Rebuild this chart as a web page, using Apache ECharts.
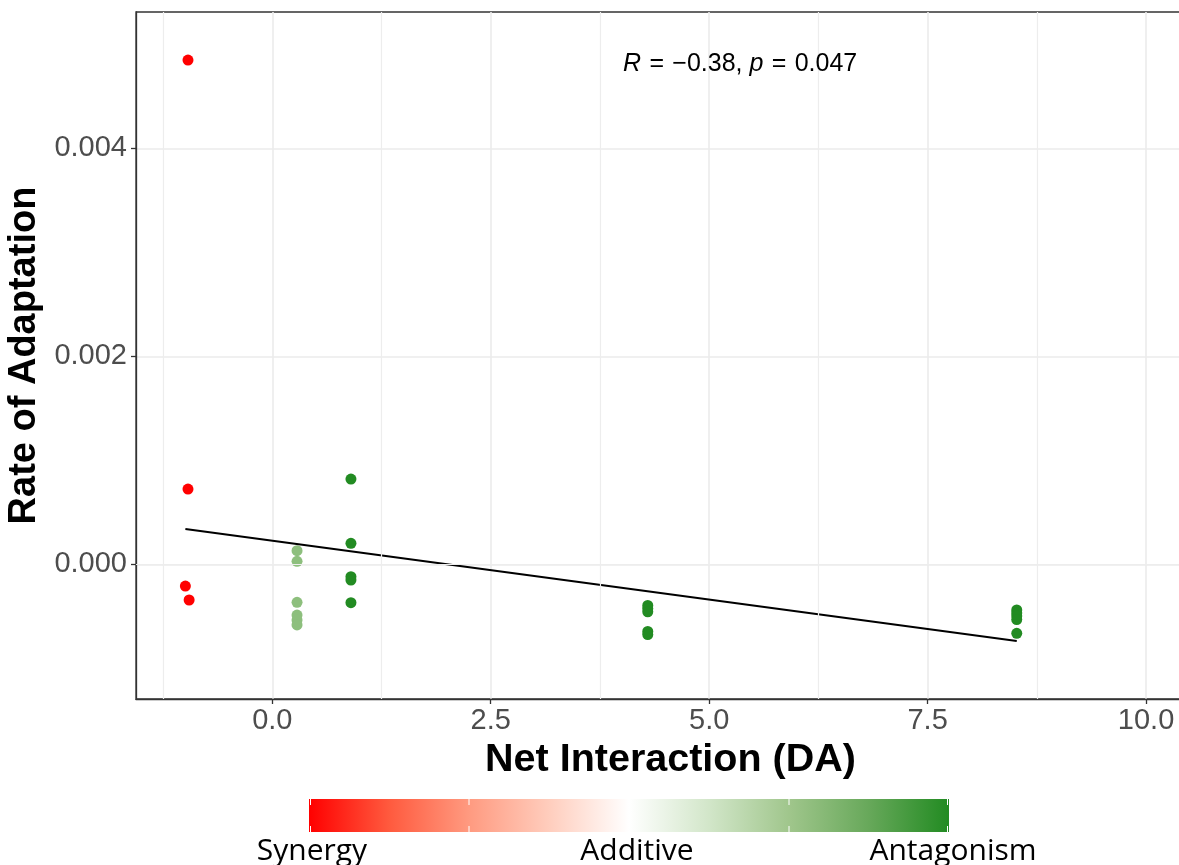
<!DOCTYPE html>
<html>
<head>
<meta charset="utf-8">
<script src="https://cdn.jsdelivr.net/npm/echarts@6/dist/echarts.min.js"></script>
<style>
  html, body { margin: 0; padding: 0; background: #fff; }
  #chart { width: 1179px; height: 865px; }
</style>
</head>
<body>
<div id="chart"></div>
<script>
// values
const synergyX = [-0.965, -0.965, -0.995, -0.952]
const synergyY = [0.004849, 0.000724, -0.000209, -0.000343]

const weakX = [0.283, 0.283, 0.283, 0.283, 0.283, 0.283]
const weakY = [0.000131, 0.000029, -0.000365, -0.000488, -0.000536, -0.000583]

const antagX = [0.9, 0.9, 0.9, 0.9, 0.9,
  4.297, 4.297, 4.297, 4.297, 4.297,
  8.52, 8.52, 8.52, 8.52, 8.52]
const antagY = [0.00082, 0.000202, -0.000119, -0.000151, -0.000369,
  -0.000396, -0.000425, -0.000457, -0.000646, -0.000675,
  -0.000439, -0.000468, -0.000497, -0.000531, -0.000663]

const fitX = [-0.995, 8.52]
const fitY = [0.000339, -0.000738]

const xTicks = [0, 2.5, 5, 7.5, 10]
const yTicks = [0, 0.002, 0.004]
const xMinor = [-1.25, 1.25, 3.75, 6.25, 8.75]
const yMinor = [-0.001, 0.001, 0.003, 0.005]

const legendLabels = ['Synergy', 'Additive', 'Antagonism']

const zip = (xs, ys) => xs.map((x, i) => [x, ys[i]])

const chart = echarts.init(document.getElementById('chart'))

const barLeft = 309, barTop = 799, barW = 640, barH = 33
const legendGraphics = [
  {
    type: 'rect',
    shape: { x: barLeft, y: barTop, width: barW, height: barH },
    style: {
      fill: new echarts.graphic.LinearGradient(0, 0, 1, 0, [
        { offset: 0, color: '#FF0000' },
        { offset: 0.125, color: '#FF5A3E' },
        { offset: 0.25, color: '#FF9A80' },
        { offset: 0.375, color: '#FFCDBD' },
        { offset: 0.5, color: '#FFFFFF' },
        { offset: 0.625, color: '#D2E6C9' },
        { offset: 0.75, color: '#A0C68C' },
        { offset: 0.875, color: '#67A85A' },
        { offset: 1, color: '#228B22' },
      ]),
    },
  },
]
// white colourbar ticks
;[0, 0.25, 0.75, 1].forEach(f => {
  const x = barLeft + f * barW + (f === 0 ? 1.5 : f === 1 ? -1.5 : 0)
  legendGraphics.push(
    { type: 'line', shape: { x1: x, y1: barTop, x2: x, y2: barTop + 6 }, style: { stroke: '#fff', lineWidth: 1 } },
    { type: 'line', shape: { x1: x, y1: barTop + barH - 6, x2: x, y2: barTop + barH }, style: { stroke: '#fff', lineWidth: 1 } }
  )
})
const labelCenters = [312, 637, 953]
legendLabels.forEach((t, i) => {
  legendGraphics.push({
    type: 'text',
    x: labelCenters[i],
    y: 851,
    style: {
      text: t,
      align: 'center',
      verticalAlign: 'middle',
      fill: '#000',
      font: '30px "Open Sans"',
    },
  })
})

const option = {
  animation: false,
  backgroundColor: '#fff',
  textStyle: { fontFamily: 'Liberation Sans' },
  grid: {
    left: 136,
    top: 12,
    right: -16,
    bottom: 166,
    show: true,
    borderColor: '#333',
    borderWidth: 1.3,
    backgroundColor: 'transparent',
    outerBoundsMode: 'none',
  },
  xAxis: {
    type: 'value',
    min: -1.56,
    max: 10.56,
    name: 'Net Interaction (DA)',
    nameLocation: 'middle',
    nameGap: 41,
    nameTextStyle: {
      color: '#000', fontSize: 39.5, fontWeight: 'bold', fontFamily: 'Liberation Sans',
      padding: [0, 0, 0, 10],
    },
    axisLine: { show: true, onZero: false, lineStyle: { color: '#333', width: 1.3 } },
    axisTick: { show: true, customValues: xTicks, length: 5, lineStyle: { color: '#333', width: 1.3 } },
    axisLabel: {
      customValues: xTicks,
      formatter: v => v.toFixed(1),
      color: '#4D4D4D',
      fontSize: 29,
      margin: 7,
      fontFamily: 'Liberation Sans',
    },
    splitLine: { show: true, lineStyle: { color: '#EBEBEB', width: 1.6 } },
  },
  yAxis: {
    type: 'value',
    min: -0.001295,
    max: 0.005311,
    name: 'Rate of Adaptation',
    nameLocation: 'middle',
    nameGap: 84,
    nameRotate: 90,
    nameTextStyle: { color: '#000', fontSize: 38, fontWeight: 'bold', fontFamily: 'Liberation Sans' },
    axisLine: { show: true, onZero: false, lineStyle: { color: '#333', width: 1.3 } },
    axisTick: { show: true, customValues: yTicks, length: 5, lineStyle: { color: '#333', width: 1.3 } },
    axisLabel: {
      customValues: yTicks,
      formatter: v => v.toFixed(3),
      color: '#4D4D4D',
      fontSize: 29,
      margin: 9,
      fontFamily: 'Liberation Sans',
    },
    splitLine: { show: true, lineStyle: { color: '#EBEBEB', width: 1.6 } },
  },
  series: [
    {
      // minor grid lines
      type: 'scatter',
      data: [],
      silent: true,
      z: 1,
      markLine: {
        silent: true,
        symbol: ['none', 'none'],
        label: { show: false },
        lineStyle: { color: '#EDEDED', width: 1.2, type: 'solid' },
        emphasis: { disabled: true },
        data: xMinor.map(v => ({ xAxis: v })).concat(yMinor.map(v => ({ yAxis: v }))),
      },
    },
    {
      type: 'scatter',
      data: zip(synergyX, synergyY),
      symbolSize: 11,
      itemStyle: { color: '#FF0000', opacity: 1 },
      z: 3,
    },
    {
      type: 'scatter',
      data: zip(weakX, weakY),
      symbolSize: 11,
      itemStyle: { color: '#8DBF7D', opacity: 1 },
      z: 3,
    },
    {
      type: 'scatter',
      data: zip(antagX, antagY),
      symbolSize: 11,
      itemStyle: { color: '#228B22', opacity: 1 },
      z: 3,
    },
    {
      type: 'line',
      data: zip(fitX, fitY),
      showSymbol: false,
      symbol: 'none',
      lineStyle: { color: '#000', width: 2 },
      z: 4,
    },
  ],
  graphic: [
    {
      type: 'text',
      x: 623,
      y: 64,
      z: 10,
      style: {
        text: '{i|R}\u2004=\u2004\u22120.38, {i|p}\u2004=\u20040.047',
        verticalAlign: 'middle',
        align: 'left',
        fill: '#000',
        font: '25px "Liberation Sans"',
        rich: {
          i: { fontStyle: 'italic', fontSize: 25, fontFamily: 'Liberation Sans', fill: '#000' },
        },
      },
    },
  ].concat(legendGraphics),
}

chart.setOption(option)
</script>
</body>
</html>
